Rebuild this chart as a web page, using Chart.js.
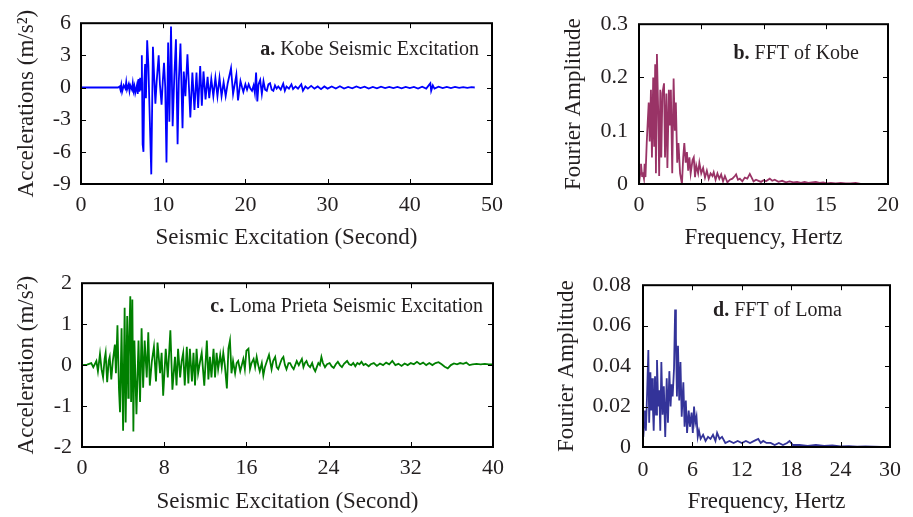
<!DOCTYPE html>
<html><head><meta charset="utf-8">
<script src="https://cdn.jsdelivr.net/npm/chart.js@4.4.1/dist/chart.umd.min.js"></script>
<style>
html,body{margin:0;padding:0;background:#fff;}
#wrap{position:relative;width:913px;height:517px;overflow:hidden;background:#fff;}
canvas{position:absolute;}
</style></head><body>
<div id="wrap">
<canvas id="ca" width="520" height="260" style="left:0;top:0"></canvas>
<canvas id="cb" width="393" height="260" style="left:520px;top:0"></canvas>
<canvas id="cc" width="520" height="257" style="left:0;top:260px"></canvas>
<canvas id="cd" width="393" height="257" style="left:520px;top:260px"></canvas>
</div>
<script>
// ---------- Data ----------
const kobeTime = [0,4.5,4.7,4.8,4.9,5.0,5.2,5.4,5.5,5.6,5.8,5.9,6.0,6.2,6.3,6.4,6.5,6.6,6.8,6.9,7.0,7.1,7.2,7.3,7.4,7.5,7.6,7.7,7.8,7.9,8.05,8.2,8.3,8.55,8.75,8.9,9.05,9.2,9.45,9.6,9.8,9.95,10.1,10.25,10.4,10.6,10.75,10.95,11.15,11.35,11.55,11.75,11.9,12.1,12.35,12.5,12.7,12.95,13.3,13.55,13.8,14.05,14.25,14.5,14.7,14.9,15.15,15.4,15.6,15.85,16.1,16.35,16.6,16.85,17.1,17.35,17.6,17.85,18.25,18.5,18.7,18.9,19.1,19.4,19.6,19.75,20.0,20.2,20.4,20.6,20.8,21.0,21.15,21.3,21.45,21.6,21.8,22.0,22.2,22.4,22.6,22.8,23.0,23.2,23.4,23.6,23.8,24.0,24.3,24.6,24.8,25.0,25.3,25.6,25.8,26.1,26.4,26.8,27.0,27.3,27.6,28.0,28.4,28.8,29.2,29.6,30.0,30.5,31.0,31.5,32.0,32.5,33.0,33.5,34.0,34.5,35.0,35.5,36.0,36.5,37.0,37.5,38.0,38.5,39.0,39.5,40.0,40.5,41.0,41.5,42.0,42.3,42.5,42.6,42.8,43.0,43.5,44.0,44.5,45.0,45.5,46.0,46.5,47.0,47.5,47.9];
const kobeAcc = [0,0,0.1,-0.2,0.25,-0.4,0.2,-0.1,0.5,-0.2,0.3,-0.3,0.2,-0.2,0.4,-0.3,0.1,-0.5,0.2,-0.6,0.8,-0.4,0.9,-0.2,3.0,-5.3,-6.0,0.3,2.2,-1.0,4.4,2.0,-1.0,-8.1,3.8,1.0,-1.5,0.5,3.0,0.3,-1.6,0.6,2.3,0.0,-7.0,4.2,-3.2,5.7,-3.6,1.0,4.5,-5.3,0.6,4.1,-3.8,1.5,-0.8,3.1,-2.8,1.4,-2.1,1.4,-1.9,2.0,-1.7,1.5,-1.1,1.0,-1.0,0.8,-0.8,0.9,-0.8,0.9,-0.8,0.5,-0.8,0.4,1.8,-0.6,0.3,1.2,-1.2,0.6,0.0,-0.4,0.3,-0.2,0.3,-0.1,-0.3,0.2,-0.5,1.4,-1.3,0.3,0.7,-0.6,0.6,-0.2,-0.3,0.3,0.4,-0.2,-0.3,0.2,-0.1,0.1,-0.2,0.35,-0.3,0.1,-0.1,0.3,-0.15,0.1,-0.1,0.3,-0.3,0.1,-0.1,0.15,-0.1,0.1,-0.15,0.1,-0.1,0.1,-0.1,0.12,-0.1,0.05,-0.08,0.1,-0.05,0.08,-0.1,0.05,-0.08,0.08,-0.05,0.06,-0.06,0.05,-0.08,0.06,-0.05,0.05,-0.1,0.08,-0.1,0.2,0.4,-0.3,0.2,-0.1,0.08,-0.06,0.05,-0.05,0.05,-0.04,0.04,-0.03,0.03,0];

const fftKobeFreq = [0,0.1,0.16,0.25,0.3,0.4,0.45,0.52,0.62,0.7,0.78,0.86,0.96,1.04,1.14,1.22,1.3,1.36,1.44,1.54,1.62,1.71,1.79,1.88,2.01,2.09,2.2,2.28,2.4,2.48,2.56,2.67,2.78,2.88,2.96,3.07,3.17,3.3,3.45,3.55,3.64,3.75,3.85,3.95,4.05,4.15,4.3,4.4,4.5,4.6,4.75,4.85,5.0,5.15,5.3,5.45,5.6,5.75,5.9,6.0,6.15,6.3,6.45,6.6,6.75,6.9,7.1,7.3,7.5,7.7,7.8,7.95,8.1,8.3,8.5,8.7,8.9,9.05,9.2,9.4,9.6,9.8,10.0,10.2,10.5,10.7,10.9,11.2,11.5,11.8,12.1,12.4,12.7,13.0,13.3,13.6,13.9,14.2,14.5,14.8,15.1,15.4,15.8,16.2,16.6,17.0,17.4,17.8];
const fftKobeAmp = [0,0.02,0.038,0.015,0.022,0.01,0.038,0.013,0.077,0.116,0.153,0.08,0.177,0.05,0.2,0.07,0.225,0.02,0.244,0.14,0.015,0.177,0.05,0.17,0.189,0.05,0.17,0.03,0.177,0.11,0.177,0.02,0.198,0.1,0.153,0.04,0.077,0.02,0.0,0.05,0.077,0.04,0.06,0.025,0.05,0.02,0.045,0.05,0.013,0.035,0.02,0.04,0.02,0.03,0.012,0.025,0.01,0.02,0.015,0.022,0.008,0.02,0.01,0.018,0.005,0.015,0.003,0.008,0.01,0.015,0.018,0.008,0.01,0.005,0.012,0.01,0.019,0.012,0.005,0.008,0.006,0.004,0.007,0.005,0.01,0.006,0.008,0.004,0.006,0.003,0.005,0.003,0.004,0.002,0.004,0.002,0.003,0.004,0.002,0.003,0.001,0.002,0.001,0.002,0.001,0.001,0.002,0.0];

const lomaTime = [0,0.5,0.9,1.1,1.4,1.55,1.75,1.9,2.05,2.2,2.3,2.45,2.6,2.7,2.85,3.0,3.2,3.3,3.45,3.6,3.7,3.85,4.0,4.15,4.25,4.4,4.5,4.55,4.7,4.78,4.9,5.0,5.1,5.2,5.3,5.5,5.65,5.8,5.95,6.1,6.3,6.45,6.6,6.8,7.0,7.2,7.35,7.6,7.75,7.9,8.15,8.35,8.6,8.8,9.05,9.2,9.35,9.55,9.7,9.85,10.0,10.2,10.35,10.5,10.7,10.85,11.0,11.15,11.3,11.5,11.65,11.9,12.15,12.3,12.45,12.6,12.8,12.95,13.1,13.25,13.45,13.6,13.75,13.9,14.1,14.25,14.4,14.55,14.7,14.9,15.05,15.2,15.4,15.55,15.7,15.85,16.0,16.2,16.35,16.5,16.7,16.85,17.0,17.15,17.3,17.5,17.65,17.8,18.0,18.2,18.45,18.6,18.8,18.95,19.1,19.3,19.45,19.6,19.75,19.9,20.1,20.25,20.45,20.6,20.75,20.9,21.1,21.25,21.4,21.55,21.7,21.85,22.0,22.2,22.4,22.55,22.7,22.85,23.0,23.15,23.3,23.45,23.65,23.85,24.1,24.3,24.5,24.7,24.9,25.1,25.3,25.5,25.8,26.0,26.2,26.4,26.6,26.8,27.0,27.2,27.4,27.6,27.9,28.1,28.4,28.7,29.0,29.3,29.6,29.9,30.2,30.5,30.8,31.1,31.4,31.7,32.0,32.3,32.6,32.9,33.2,33.5,33.8,34.1,34.4,34.7,35.0,35.3,35.6,35.9,36.2,36.5,36.8,37.1,37.4,37.7,38.0,38.4,38.8,39.2,39.6,40.0];
const lomaAcc = [0,0.01,0.05,-0.05,0.1,-0.15,0.27,-0.1,-0.3,0.15,0.3,-0.42,0.1,0.2,-0.35,0.1,0.5,-0.2,0.97,-0.6,-1.15,0.9,-1.6,1.4,-1.4,1.2,-0.8,0.2,1.68,-0.9,1.6,-1.62,0.6,-0.3,-1.2,0.6,-0.9,0.9,-0.55,0.6,-0.3,0.8,-0.5,0.1,0.45,-0.4,0.55,-0.2,0.3,-0.75,0.4,-0.3,0.85,-0.6,0.2,-0.5,0.4,-0.3,0.1,0.3,-0.5,0.45,-0.45,0.4,-0.4,0.3,-0.5,0.4,-0.2,0.1,0.3,-0.5,0.6,-0.35,0.2,-0.3,0.4,-0.3,0.3,-0.1,0.25,-0.05,0.3,0.0,-0.57,0.4,0.6,-0.2,0.1,-0.2,0.05,0.1,-0.15,0.0,0.15,-0.1,0.35,0.4,-0.1,0.05,0.15,-0.05,0.2,0.0,-0.15,0.05,-0.25,-0.05,0.1,0.25,-0.1,0.1,0.2,-0.05,-0.1,0.05,0.15,0.2,0.0,-0.1,0.05,0.05,-0.05,-0.1,0.0,0.1,0.0,0.08,0.15,-0.05,0.05,0.1,0.0,-0.05,0.05,-0.08,-0.15,-0.05,0.05,0.0,0.2,0.05,-0.05,0.02,0.05,-0.03,-0.07,0.02,0.08,0.0,-0.05,0.03,0.1,0.02,0.0,0.05,-0.03,0.05,0.02,0.08,0.0,0.03,-0.03,0.02,0.05,-0.02,0.04,0.0,0.06,0.02,0.1,0.0,0.03,-0.02,0.04,0.0,0.05,0.02,0.08,0.02,0.06,0.0,0.05,0.0,0.05,0.07,0.02,-0.04,-0.08,0.0,0.04,0.02,0.05,0.03,0.06,0.0,0.02,0.03,0.02,0.03,0.02,0.02];

const fftLomaFreq = [0.04,0.15,0.24,0.35,0.45,0.53,0.65,0.75,0.9,1.0,1.1,1.2,1.3,1.46,1.58,1.7,1.85,1.97,2.1,2.23,2.38,2.53,2.7,2.88,3.03,3.2,3.35,3.47,3.6,3.77,3.9,4.0,4.12,4.25,4.4,4.55,4.7,4.9,5.05,5.2,5.35,5.55,5.7,5.9,6.05,6.2,6.35,6.5,6.65,6.8,7.0,7.3,7.6,7.9,8.2,8.5,8.8,9.0,9.3,9.6,10.0,10.5,11.0,11.5,12.0,12.5,13.0,13.5,14.0,14.3,14.6,15.0,15.5,16.0,16.5,17.0,17.5,17.8,18.2,19.0,20.0,21.0,22.0,23.0,24.0,25.0,26.0,27.0,28.0,29.0];
const fftLomaAmp = [0.005,0.012,0.018,0.008,0.02,0.031,0.048,0.012,0.037,0.018,0.034,0.02,0.008,0.035,0.016,0.043,0.02,0.028,0.008,0.042,0.016,0.03,0.005,0.034,0.012,0.0375,0.02,0.031,0.025,0.039,0.068,0.054,0.025,0.05,0.023,0.042,0.015,0.032,0.01,0.023,0.007,0.018,0.01,0.017,0.007,0.02,0.012,0.015,0.005,0.008,0.004,0.006,0.003,0.005,0.004,0.006,0.003,0.007,0.004,0.005,0.002,0.003,0.002,0.003,0.002,0.003,0.002,0.003,0.004,0.002,0.003,0.002,0.002,0.001,0.002,0.001,0.002,0.003,0.001,0.001,0.0005,0.001,0.0005,0.0008,0.0003,0.0004,0.0002,0.0003,0.0002,0.0001];

const kobeXTicks = [0,10,20,30,40,50];
const kobeYTicks = [-9,-6,-3,0,3,6];
const kobeYTickLabels = ['-9','-6','-3','0','3','6'];
const fftKobeXTicks = [0,5,10,15,20];
const fftKobeYTicks = [0,0.1,0.2,0.3];
const fftKobeYTickLabels = ['0','0.1','0.2','0.3'];
const lomaXTicks = [0,8,16,24,32,40];
const lomaYTicks = [-2,-1,0,1,2];
const lomaYTickLabels = ['-2','-1','0','1','2'];
const fftLomaXTicks = [0,6,12,18,24,30];
const fftLomaYTicks = [0,0.02,0.04,0.06,0.08];
const fftLomaYTickLabels = ['0','0.02','0.04','0.06','0.08'];

// ---------- Rendering ----------
const FONT = "'Liberation Serif','Times New Roman',serif";
const TXT = '#231f20';

const framePlugin = {
  id: 'frame',
  afterDatasetsDraw(chart, args, opts) {
    const {ctx, chartArea: a, scales} = chart;
    ctx.save();
    ctx.strokeStyle = '#000';
    ctx.lineWidth = 1;
    const tl = 5;
    scales.x.ticks.forEach(t => {
      const px = Math.round(scales.x.getPixelForValue(t.value)) + 0.5;
      ctx.beginPath();
      ctx.moveTo(px, a.bottom); ctx.lineTo(px, a.bottom - tl);
      ctx.moveTo(px, a.top); ctx.lineTo(px, a.top + tl);
      ctx.stroke();
    });
    scales.y.ticks.forEach(t => {
      const py = Math.round(scales.y.getPixelForValue(t.value)) + 0.5;
      ctx.beginPath();
      ctx.moveTo(a.left, py); ctx.lineTo(a.left + tl, py);
      ctx.moveTo(a.right, py); ctx.lineTo(a.right - tl, py);
      ctx.stroke();
    });
    ctx.lineWidth = 2;
    ctx.strokeRect(a.left, a.top, a.right - a.left, a.bottom - a.top);
    // panel label
    const fs = 20;
    const right = a.right - opts.dx;
    const y = a.top + opts.dy;
    ctx.textBaseline = 'middle';
    ctx.fillStyle = TXT;
    ctx.font = fs + 'px ' + FONT;
    const wNorm = ctx.measureText(opts.text).width;
    ctx.font = 'bold ' + fs + 'px ' + FONT;
    const wBold = ctx.measureText(opts.bold + ' ').width;
    const start = right - wNorm - wBold;
    ctx.textAlign = 'left';
    ctx.fillText(opts.bold + ' ', start, y);
    ctx.font = fs + 'px ' + FONT;
    ctx.fillText(opts.text, start + wBold, y);
    ctx.restore();
  }
};

function makePanel(id, p) {
  const pts = p.xs.map((x, i) => ({x: x, y: p.ys[i]}));
  return new Chart(document.getElementById(id), {
    type: 'line',
    data: { datasets: [{ data: pts, borderColor: p.color, borderWidth: 1.8, pointRadius: 0, tension: 0, fill: false }] },
    options: {
      responsive: false, animation: false, devicePixelRatio: 1,
      parsing: false, normalized: true,
      layout: { padding: { left: 0, top: p.padTop, right: p.padRight, bottom: 0 } },
      plugins: { legend: { display: false }, tooltip: { enabled: false },
        frame: { bold: p.bold, text: p.text, dx: p.labelDx, dy: p.labelDy } },
      scales: {
        x: {
          type: 'linear', min: p.xMin, max: p.xMax,
          grid: { display: false, drawTicks: false }, border: { display: false },
          afterBuildTicks: s => { s.ticks = p.xTicks.map(v => ({value: v})); },
          afterFit: s => { s.height = p.xAxisH; },
          ticks: { autoSkip: false, maxRotation: 0, padding: p.xTickPad, color: TXT,
                   font: { family: FONT, size: 22 }, callback: (v) => String(v) },
          title: { display: true, text: p.xTitle, color: TXT, font: { family: FONT, size: 23 },
                   padding: { top: 0, bottom: p.xTitlePad } }
        },
        y: {
          type: 'linear', min: p.yMin, max: p.yMax,
          grid: { display: false, drawTicks: false }, border: { display: false },
          afterBuildTicks: s => { s.ticks = p.yTicks.map(v => ({value: v})); },
          afterFit: s => { s.width = p.yAxisW; },
          ticks: { autoSkip: false, padding: p.yTickPad, color: TXT,
                   font: { family: FONT, size: 22 }, callback: (v, i) => p.yLabels[i] },
          title: { display: true, text: p.yTitle, color: TXT, font: { family: FONT, size: 23 },
                   padding: { top: p.yTitlePad, bottom: 0 } }
        }
      }
    },
    plugins: [framePlugin]
  });
}

makePanel('ca', { xs: kobeTime, ys: kobeAcc, color: '#0000ff',
  xMin: 0, xMax: 50, xTicks: kobeXTicks, yMin: -9, yMax: 6, yTicks: kobeYTicks, yLabels: kobeYTickLabels,
  xTitle: 'Seismic Excitation (Second)', yTitle: 'Accelerations (m/s²)',
  padTop: 19, padRight: 28, yAxisW: 81, xAxisH: 76, xTickPad: 8, yTickPad: 10, xTitlePad: 8, yTitlePad: 13,
  bold: 'a.', text: 'Kobe Seismic Excitation', labelDx: 13, labelDy: 27 });

makePanel('cb', { xs: fftKobeFreq, ys: fftKobeAmp, color: '#993366',
  xMin: 0, xMax: 20, xTicks: fftKobeXTicks, yMin: 0, yMax: 0.3, yTicks: fftKobeYTicks, yLabels: fftKobeYTickLabels,
  xTitle: 'Frequency, Hertz', yTitle: 'Fourier Amplitude',
  padTop: 19, padRight: 25, yAxisW: 119, xAxisH: 76, xTickPad: 8, yTickPad: 11, xTitlePad: 8, yTitlePad: 40,
  bold: 'b.', text: 'FFT of Kobe', labelDx: 29, labelDy: 30 });

makePanel('cc', { xs: lomaTime, ys: lomaAcc, color: '#008000',
  xMin: 0, xMax: 40, xTicks: lomaXTicks, yMin: -2, yMax: 2, yTicks: lomaYTicks, yLabels: lomaYTickLabels,
  xTitle: 'Seismic Excitation (Second)', yTitle: 'Acceleration (m/s²)',
  padTop: 22, padRight: 27, yAxisW: 82, xAxisH: 70, xTickPad: 8, yTickPad: 10, xTitlePad: 1, yTitlePad: 13,
  bold: 'c.', text: 'Loma Prieta Seismic Excitation', labelDx: 10, labelDy: 24 });

makePanel('cd', { xs: fftLomaFreq, ys: fftLomaAmp, color: '#333399',
  xMin: 0, xMax: 30, xTicks: fftLomaXTicks, yMin: 0, yMax: 0.08, yTicks: fftLomaYTicks, yLabels: fftLomaYTickLabels,
  xTitle: 'Frequency, Hertz', yTitle: 'Fourier Amplitude',
  padTop: 23, padRight: 23, yAxisW: 123, xAxisH: 70, xTickPad: 10, yTickPad: 12, xTitlePad: 1, yTitlePad: 33,
  bold: 'd.', text: 'FFT of Loma', labelDx: 48, labelDy: 26 });
</script>
</body></html>
